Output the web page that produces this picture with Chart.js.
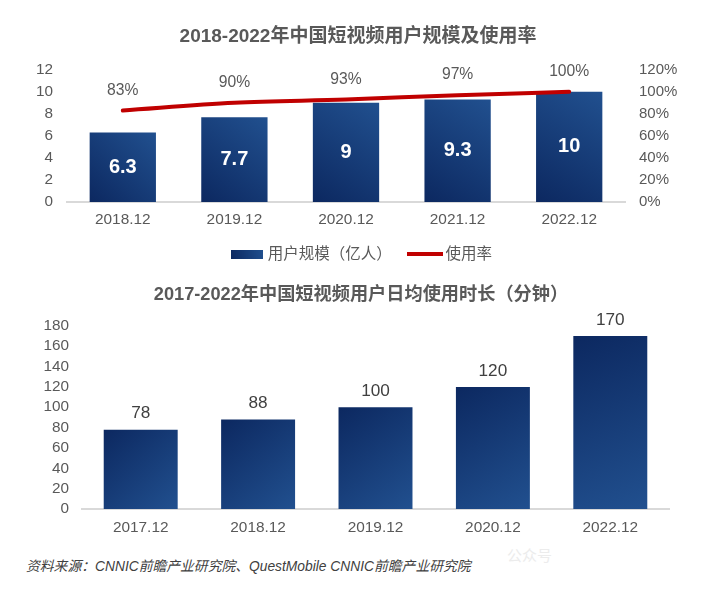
<!DOCTYPE html>
<html>
<head>
<meta charset="utf-8">
<script src="https://cdn.jsdelivr.net/npm/chart.js@4"></script>
<style>
  html, body { margin: 0; padding: 0; background: #fff; }
  #wrap { position: relative; width: 703px; height: 599px; overflow: hidden; }
  #source { position: absolute; left: 26px; top: 555px; font: italic 13.8px "Liberation Sans", "Noto Sans CJK SC", sans-serif; color: #404040; white-space: nowrap; }
  #mark { position: absolute; left: 507px; top: 544px; font: 15px "Noto Sans CJK SC", sans-serif; color: #ececec; white-space: nowrap; }
</style>
</head>
<body>
<div id="wrap">
  <div style="position:absolute;left:0;top:0;width:703px;height:272px"><canvas id="scaleChart"></canvas></div>
  <div style="position:absolute;left:0;top:272px;width:703px;height:267px"><canvas id="timeChart"></canvas></div>
  <div id="source">资料来源：CNNIC前瞻产业研究院、QuestMobile CNNIC前瞻产业研究院</div>
  <div id="mark">公众号</div>
</div>
<script>
const scaleLabels = ["2018.12", "2019.12", "2020.12", "2021.12", "2022.12"];
const scaleValues = [6.3, 7.7, 9, 9.3, 10];
const rateValues = [83, 90, 93, 97, 100];
const timeLabels = ["2017.12", "2018.12", "2019.12", "2020.12", "2022.12"];
const timeValues = [78, 88, 100, 120, 170];

const FONT = '"Liberation Sans", "Noto Sans CJK SC", sans-serif';
const GREY = "#595959";
const DARK_BLUE = "#0c2860";
const LIGHT_BLUE = "#21508f";
const RED = "#c00000";
Chart.defaults.font.family = FONT;
Chart.defaults.color = GREY;
Chart.defaults.animation = false;

// gradient per bar, dark corner to light corner
// element has no position yet when options resolve, so ask the scales
function barGradient(fromBottom) {
  return function (c) {
    const area = c.chart.chartArea;
    if (!area || c.parsed === undefined) return LIGHT_BLUE;
    const xs = c.chart.scales.x, ys = c.chart.scales.y;
    const x = xs.getPixelForTick(c.dataIndex);
    const half = area.width / xs.ticks.length * c.dataset.barPercentage / 2;
    const top = ys.getPixelForValue(c.parsed.y);
    const g = fromBottom
      ? c.chart.ctx.createLinearGradient(x - half, area.bottom, x + half, top)
      : c.chart.ctx.createLinearGradient(x - half, top, x + half, area.bottom);
    g.addColorStop(0, DARK_BLUE);
    g.addColorStop(1, LIGHT_BLUE);
    return g;
  };
}

// legend swatches: flat bar and thin line
function swatch(w, h, paint) {
  const cv = document.createElement("canvas");
  cv.width = w;
  cv.height = h;
  paint(cv.getContext("2d"), w, h);
  return cv;
}
const barSwatch = swatch(32, 9, (ctx, w, h) => {
  const g = ctx.createLinearGradient(0, h, w, 0);
  g.addColorStop(0, DARK_BLUE);
  g.addColorStop(1, LIGHT_BLUE);
  ctx.fillStyle = g;
  ctx.fillRect(0, 0, w, h);
});
const lineSwatch = swatch(36, 4, (ctx, w, h) => {
  ctx.fillStyle = RED;
  ctx.fillRect(0, 0, w, h);
});

// value labels, no datalabels plugin available here
const valueLabels = {
  id: "valueLabels",
  afterDatasetsDraw(chart) {
    const ctx = chart.ctx;
    ctx.save();
    ctx.textAlign = "center";
    ctx.textBaseline = "middle";
    chart.data.datasets.forEach((ds, i) => {
      const l = ds.valueLabel;
      if (!l) return;
      chart.getDatasetMeta(i).data.forEach((el, j) => {
        ctx.font = l.font;
        ctx.fillStyle = l.color;
        const y = l.middle ? (el.y + el.base) / 2 : el.y + l.dy;
        ctx.fillText(ds.data[j] + (l.suffix || ""), el.x, y);
      });
    });
    ctx.restore();
  }
};

// move a title or legend sideways without touching the plot area
function nudge(boxName, dx) {
  return {
    id: "nudge" + boxName,
    afterLayout(chart) {
      chart[boxName].left += dx;
      chart[boxName].right += dx;
    }
  };
}

new Chart("scaleChart", {
  type: "bar",
  plugins: [valueLabels, nudge("legend", 5)],
  data: {
    labels: scaleLabels,
    datasets: [
      {
        type: "line",
        label: "使用率",
        data: rateValues,
        yAxisID: "y2",
        borderColor: RED,
        backgroundColor: RED,
        borderWidth: 4,
        borderCapStyle: "round",
        pointRadius: 0,
        cubicInterpolationMode: "monotone",
        valueLabel: { font: "15.7px " + FONT, color: GREY, suffix: "%", dy: -20 },
        order: 0
      },
      {
        label: "用户规模（亿人）",
        data: scaleValues,
        yAxisID: "y",
        backgroundColor: barGradient(true),
        categoryPercentage: 1,
        barPercentage: 0.594,
        valueLabel: { font: "bold 20px " + FONT, color: "#fff", middle: true },
        order: 1
      }
    ]
  },
  options: {
    responsive: true,
    maintainAspectRatio: false,
    layout: { padding: { left: 13, right: 0, top: 0, bottom: 0 } },
    plugins: {
      title: {
        display: true,
        text: "2018-2022年中国短视频用户规模及使用率",
        font: { size: 19, weight: "bold" },
        color: GREY,
        padding: { top: 25, bottom: 22 }
      },
      legend: {
        position: "bottom",
        labels: {
          usePointStyle: true,
          pointStyleWidth: 26,
          padding: 20,
          font: { size: 15.5 },
          generateLabels: chart => [
            { text: chart.data.datasets[1].label, pointStyle: barSwatch, fontColor: GREY, lineWidth: 0, datasetIndex: 1 },
            { text: chart.data.datasets[0].label, pointStyle: lineSwatch, fontColor: GREY, lineWidth: 0, datasetIndex: 0 }
          ]
        }
      },
      tooltip: { enabled: false }
    },
    scales: {
      x: {
        afterFit(s) { s.height = 24.5; },
        grid: { display: false, drawTicks: false },
        border: { color: "#d9d9d9", width: 2 },
        ticks: { font: { size: 15.4 }, padding: 9, maxRotation: 0 }
      },
      y: {
        min: 0, max: 12,
        afterFit(s) { s.width = 54; },
        grid: { display: false, drawTicks: false },
        border: { display: false },
        ticks: { stepSize: 2, autoSkip: false, font: { size: 15.3 }, padding: 14 }
      },
      y2: {
        position: "right",
        min: 0, max: 120,
        afterFit(s) { s.width = 78; },
        grid: { display: false, drawTicks: false },
        border: { display: false },
        ticks: { stepSize: 20, autoSkip: false, font: { size: 15 }, padding: 14, callback: v => v + "%" }
      }
    }
  }
});

new Chart("timeChart", {
  type: "bar",
  plugins: [valueLabels, nudge("titleBlock", 5)],
  data: {
    labels: timeLabels,
    datasets: [{
      data: timeValues,
      backgroundColor: barGradient(false),
      categoryPercentage: 1,
      barPercentage: 0.63,
      valueLabel: { font: "17.2px " + FONT, color: "#404040", dy: -16 }
    }]
  },
  options: {
    responsive: true,
    maintainAspectRatio: false,
    layout: { padding: { left: 43, right: 34, top: 0, bottom: 0 } },
    plugins: {
      title: {
        display: true,
        text: "2017-2022年中国短视频用户日均使用时长（分钟）",
        font: { size: 18.2, weight: "bold" },
        color: GREY,
        padding: { top: 12, bottom: 20 }
      },
      legend: { display: false },
      tooltip: { enabled: false }
    },
    scales: {
      x: {
        afterFit(s) { s.height = 30; },
        grid: { display: false, drawTicks: false },
        border: { color: "#d9d9d9", width: 2 },
        ticks: { font: { size: 15.4 }, padding: 10, maxRotation: 0 }
      },
      y: {
        min: 0, max: 180,
        afterFit(s) { s.width = 39; },
        grid: { display: false, drawTicks: false },
        border: { display: false },
        ticks: { stepSize: 20, autoSkip: false, font: { size: 15.3 }, padding: 13 }
      }
    }
  }
});
</script>
</body>
</html>
